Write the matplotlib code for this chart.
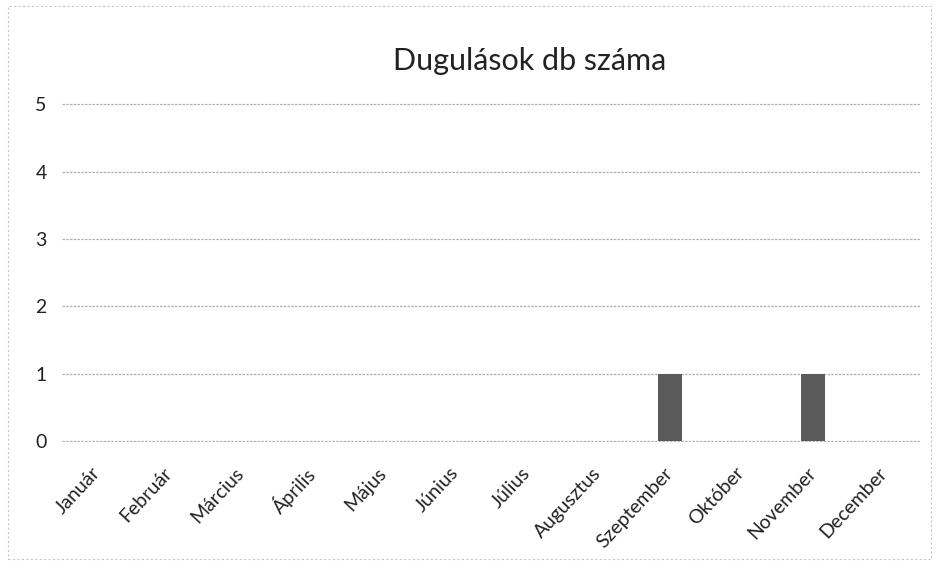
import numpy as np
import matplotlib.pyplot as plt
from matplotlib.patches import Rectangle

# Data
honapok = ['Január', 'Február', 'Március', 'Április', 'Május', 'Június',
           'Július', 'Augusztus', 'Szeptember', 'Október', 'November', 'December']
dugulasok = [0, 0, 0, 0, 0, 0, 0, 0, 1, 0, 1, 0]
y_ticks = [0, 1, 2, 3, 4, 5]

plt.rcParams['font.family'] = ['Lato', 'DejaVu Sans']

fig = plt.figure(figsize=(9.38, 5.85), dpi=100)
ax = fig.add_axes([0.066, 0.244, 0.915, 0.580])

x = np.arange(len(honapok))
ax.bar(x, dugulasok, width=0.34, color='#5a5a5a', zorder=3)

ax.set_xlim(-0.5, len(honapok) - 0.5)
ax.set_ylim(-0.02, 5.02)
ax.set_yticks(y_ticks)
ax.set_yticklabels([str(v) for v in y_ticks], fontsize=14, color='#222222')
ax.set_xticks(x)
ax.set_xticklabels(honapok, rotation=47, ha='right', va='center',
                   rotation_mode='anchor', fontsize=14, color='#222222')
ax.tick_params(axis='both', length=0)
ax.tick_params(axis='y', pad=11)
ax.tick_params(axis='x', pad=20)

ax.grid(axis='y', color='#b0b0b0', linewidth=0.9, linestyle=(0, (2, 1)), zorder=0)
for s in ax.spines.values():
    s.set_visible(False)

fig.text(0.565, 0.895, 'Dugulások db száma', ha='center', va='center',
         fontsize=22, color='#222222')

# faint chart border from the scan
fig.patches.append(Rectangle((0.008, 0.045), 0.985, 0.945, transform=fig.transFigure,
                             fill=False, edgecolor='#c8c8c8', linewidth=0.8,
                             linestyle=(0, (2, 2))))

plt.savefig('out.png', dpi=100)
